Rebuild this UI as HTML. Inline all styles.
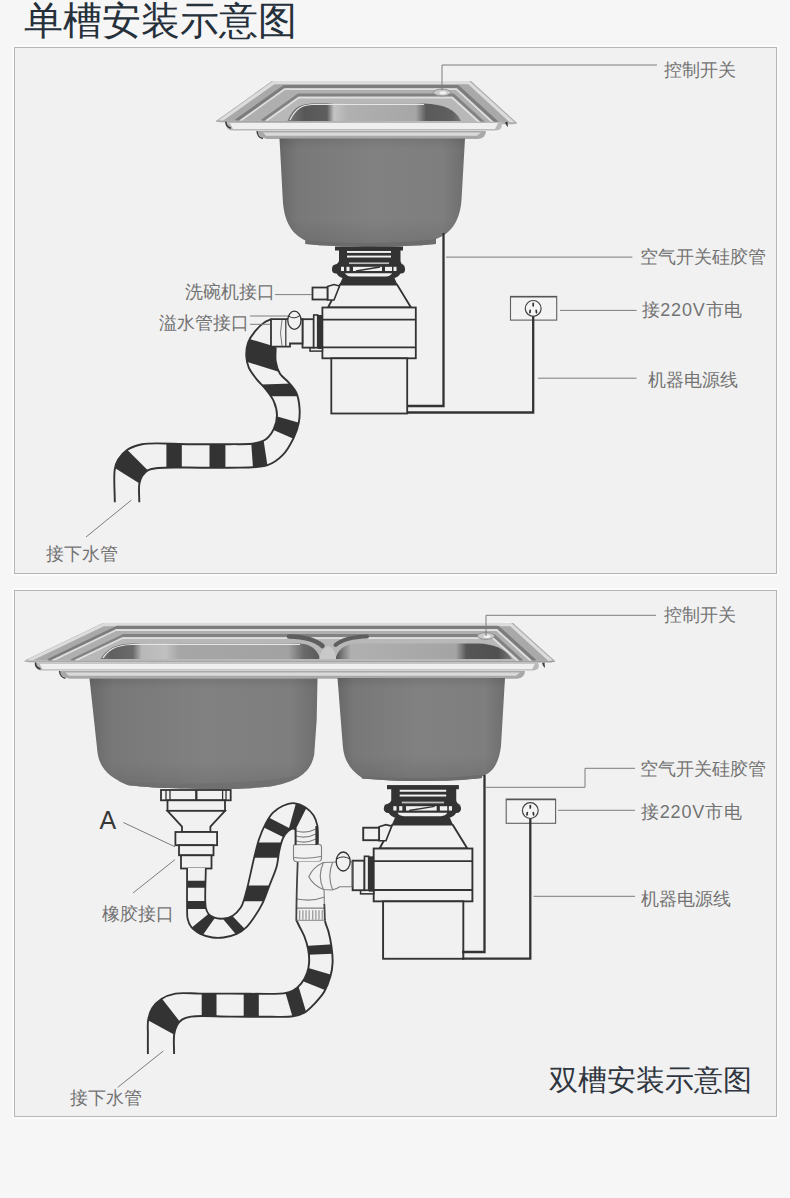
<!DOCTYPE html>
<html><head><meta charset="utf-8"><style>
html,body{margin:0;padding:0;}
body{width:790px;height:1198px;background:#f6f6f6;position:relative;overflow:hidden;font-family:"Liberation Sans",sans-serif;}
.panel{position:absolute;left:14px;width:761px;height:525px;background:#f1f1f1;border:1px solid #b6b6b6;box-shadow:0 0 0 2px #fbfbfb;}
.t{position:absolute;white-space:nowrap;color:#737373;font-size:18px;line-height:20px;font-weight:300;}
.title{position:absolute;white-space:nowrap;color:#25303b;font-size:39.2px;line-height:40px;font-weight:300;}
svg{position:absolute;left:0;top:0;}
</style></head><body>
<div class="panel" style="top:47px"></div>
<div class="panel" style="top:590px"></div>
<div class="title" style="left:24px;top:0.5px">单槽安装示意图</div>
<svg width="790" height="1198" viewBox="0 0 790 1198">
<defs>
<linearGradient id="op1" x1="287" y1="0" x2="461" y2="0" gradientUnits="userSpaceOnUse">
 <stop offset="0" stop-color="#7a7a7a"/><stop offset="0.1" stop-color="#575757"/><stop offset="0.23" stop-color="#5e5e5e"/>
 <stop offset="0.27" stop-color="#c4c4c4"/><stop offset="0.35" stop-color="#b0b0b0"/><stop offset="0.74" stop-color="#a6a6a6"/>
 <stop offset="0.8" stop-color="#5a5a5a"/><stop offset="0.95" stop-color="#606060"/><stop offset="1" stop-color="#7a7a7a"/></linearGradient>
<linearGradient id="op2" x1="100" y1="0" x2="319" y2="0" gradientUnits="userSpaceOnUse">
 <stop offset="0" stop-color="#7a7a7a"/><stop offset="0.05" stop-color="#606060"/><stop offset="0.15" stop-color="#6a6a6a"/>
 <stop offset="0.19" stop-color="#b8b8b8"/><stop offset="0.3" stop-color="#c0c0c0"/><stop offset="0.36" stop-color="#a6a6a6"/>
 <stop offset="0.86" stop-color="#a2a2a2"/><stop offset="0.93" stop-color="#6a6a6a"/><stop offset="1" stop-color="#5a5a5a"/></linearGradient>
<linearGradient id="op3" x1="337" y1="0" x2="512" y2="0" gradientUnits="userSpaceOnUse">
 <stop offset="0" stop-color="#5a5a5a"/><stop offset="0.08" stop-color="#b0b0b0"/><stop offset="0.68" stop-color="#a4a4a4"/>
 <stop offset="0.74" stop-color="#565656"/><stop offset="0.92" stop-color="#505050"/><stop offset="1" stop-color="#7a7a7a"/></linearGradient>
<linearGradient id="bowl" x1="0" y1="0" x2="1" y2="0">
 <stop offset="0" stop-color="#686868"/><stop offset="0.1" stop-color="#787878"/>
 <stop offset="0.5" stop-color="#818181"/><stop offset="0.88" stop-color="#7e7e7e"/><stop offset="1" stop-color="#6e6e6e"/></linearGradient>
<linearGradient id="bowlv" x1="0" y1="0" x2="0" y2="1">
 <stop offset="0" stop-color="#000" stop-opacity="0.08"/><stop offset="0.1" stop-color="#000" stop-opacity="0"/>
 <stop offset="0.75" stop-color="#000" stop-opacity="0"/><stop offset="1" stop-color="#000" stop-opacity="0.10"/></linearGradient>
</defs>
<polygon points="272.0,81.0 471.0,81.0 517.0,123.0 216.0,121.0" fill="#a9a9a9" />
<polyline points="220.0,121.0 273.8,82.6 468.8,82.6 513.0,123.0" fill="none" stroke="#dcdcdc" stroke-width="3.2" stroke-linejoin="round"/>
<polygon points="284.2,86.6 457.5,86.6 497.4,123.0 236.0,121.0" fill="#afafaf" />
<polyline points="236.0,121.0 284.2,86.6 457.5,86.6 497.4,123.0" fill="none" stroke="#7c7c7c" stroke-width="3.4" stroke-linejoin="round"/>
<polyline points="240.0,121.0 284.5,89.2 456.4,89.2 493.4,123.0" fill="none" stroke="#dedede" stroke-width="1.8" stroke-linejoin="round"/>
<polygon points="298.4,95.0 453.3,95.0 484.0,123.0 262.0,121.0" fill="#b8b8b8" />
<polyline points="262.0,121.0 298.4,95.0 453.3,95.0 484.0,123.0" fill="none" stroke="#828282" stroke-width="3.0" stroke-linejoin="round"/>
<polyline points="266.0,121.0 298.8,97.6 452.2,97.6 480.0,123.0" fill="none" stroke="#dedede" stroke-width="1.8" stroke-linejoin="round"/>
<path d="M287.5,121 C292,110 298,104 312,103.5 L424,103.5 C444,104 456,110 461,121 Z" fill="url(#op1)"/>
<path d="M290,120 C295,110 300,105 312,104.5 L424,104.5" fill="none" stroke="#e6e6e6" stroke-width="1.2"/>
<polygon points="216,120.4 517,122.4 513,124.6 220,122.6" fill="#c6c6c6"/>
<line x1="216" y1="121.2" x2="517" y2="123.2" stroke="#9a9a9a" stroke-width="0.9"/>
<path d="M226,121.7 L501,121.7 Q504,129.4 496,130.4 L231,130.4 Q225,129.4 226,121.7 Z" fill="#b9b9b9"/>
<path d="M230,122.9 L498,122.9 L495,129.0 L233,129.0 Z" fill="#efefef"/>
<path d="M226,121.7 Q225.5,126.7 231,128.2" fill="none" stroke="#3a3a3a" stroke-width="1.6"/>
<path d="M505,122.2 Q506,125.7 508,127.2 L507.5,121.7 Z" fill="#3a3a3a"/>
<path d="M257,131 L486,131 Q486,138 478,139 L267,139 Q258,137 257,131 Z" fill="#a8a8a8"/>
<path d="M263,132.6 L481,132.6 L477,135.8 L266,135.8 Z" fill="#dadada"/>
<path d="M257,131 Q257.5,137.5 263,138.5" fill="none" stroke="#444" stroke-width="1.4"/>
<path d="M279.5,138.5 L465,138.5 L461.5,200 C460,222 450,234 436,239 L436,244 C400,247.5 340,247.5 305.5,244 L305.4,240.5 C292,234 284,222 282.8,200 Z" fill="url(#bowl)"/>
<path d="M279.5,138.5 L465,138.5 L461.5,200 C460,222 450,234 436,239 L436,244 C400,247.5 340,247.5 305.5,244 L305.4,240.5 C292,234 284,222 282.8,200 Z" fill="url(#bowlv)"/>
<path d="M305.4,240.5 C340,244 400,244 436,239 L436,244 C400,247.5 340,247.5 305.5,244 Z" fill="#6c6c6c"/>
<ellipse cx="442" cy="92.5" rx="8.5" ry="3.4" fill="#c9c9c9" stroke="#8c8c8c" stroke-width="0.9"/><ellipse cx="443" cy="92.8" rx="3.5" ry="1.6" fill="#f2f2f2"/>
<polyline points="442,90 442,65 657,65" fill="none" stroke="#7d7d7d" stroke-width="1"/>
<rect x="335" y="246.5" width="68" height="4" fill="#333333"/>
<path d="M339,250 L400.5,250 L400.5,261 Q401,264.5 405,265.5 L332,265.5 Q338,264.5 339,261 Z" fill="#333333"/>
<rect x="347" y="251" width="44" height="1.9" fill="#f2f2f2"/>
<rect x="347" y="255.6" width="44" height="1.9" fill="#f2f2f2"/>
<rect x="349" y="262.4" width="40" height="1.7" fill="#bdbdbd"/>
<rect x="332" y="264.8" width="73" height="8.6" rx="4" fill="#333333"/>
<rect x="341" y="266.8" width="3" height="4.2" fill="#f0f0f0"/>
<rect x="346.5" y="266.8" width="3.0" height="4.2" fill="#f0f0f0"/>
<rect x="353" y="266.8" width="29" height="4.2" fill="#f0f0f0"/>
<rect x="385" y="266.8" width="7" height="4.2" fill="#f0f0f0"/>
<rect x="393.5" y="266.8" width="3.0" height="4.2" fill="#f0f0f0"/>
<line x1="356" y1="271" x2="380" y2="267" stroke="#333333" stroke-width="1.4"/>
<path d="M336,272 Q338,278 346,278.5 L391,278.5 Q399,278 401,272 Z" fill="#333333"/>
<path d="M345,273.2 L392,273.2 Q390.5,276.2 386,276.4 L351,276.4 Q346.5,276.2 345,273.2 Z" fill="#f0f0f0"/>
<polygon points="342.5,278 394.5,278 397.5,284.8 339.5,284.8" fill="#333333"/>
<polygon points="340,284.5 397,284.5 411,307.5 328,307.5" fill="#f1f1f1" stroke="#333333" stroke-width="1.8" stroke-linejoin="round"/>
<polygon points="327.5,286.5 334,284.5 339.5,286 334,300 327.5,300" fill="#f1f1f1" stroke="#333333" stroke-width="1.6"/>
<rect x="312.5" y="287.5" width="15" height="12" fill="#f1f1f1" stroke="#333333" stroke-width="1.8"/>
<rect x="322.4" y="307.5" width="93.4" height="50.8" fill="#f1f1f1" stroke="#333333" stroke-width="1.8"/>
<line x1="322.4" y1="319.6" x2="415.8" y2="319.6" stroke="#333333" stroke-width="1.8"/>
<line x1="322.4" y1="347.4" x2="415.8" y2="347.4" stroke="#333333" stroke-width="1.8"/>
<rect x="331.3" y="358.3" width="75.9" height="55.2" fill="#f1f1f1" stroke="#333333" stroke-width="1.8"/>
<rect x="310" y="347.5" width="12.4" height="3.6" fill="#f1f1f1" stroke="#333333" stroke-width="1.5"/>
<rect x="302.5" y="319.2" width="11.2" height="28.4" fill="#f1f1f1" stroke="#333333" stroke-width="1.8"/>
<rect x="313.7" y="315" width="4" height="32.6" fill="#f1f1f1" stroke="#333333" stroke-width="1.6"/>
<rect x="317.7" y="315" width="4.7" height="34" fill="#333333"/>
<clipPath id="hc1"><path d="M114.8,502.2 C114.8,491.2 113.5,476.9 114.8,469.2 C115.5,464.9 116.3,462.6 118.2,459.5 C120.3,456.0 123.6,452.3 127.3,449.8 C131.4,447.1 135.6,445.4 142.1,444.2 C153.4,442.1 174.8,444.2 190.0,444.2 C203.9,444.2 218.2,444.4 230.0,444.2 C239.3,444.0 248.4,444.7 255.0,443.3 C259.6,442.3 263.2,441.3 266.3,438.9 C269.5,436.5 272.0,432.7 273.8,428.9 C275.7,424.8 277.0,419.6 277.0,415.0 C277.0,410.4 275.6,405.5 273.8,401.3 C272.0,397.2 269.1,393.7 266.3,390.0 C263.3,386.1 259.3,382.6 256.3,378.8 C253.5,375.2 250.5,371.5 248.8,367.6 C247.3,364.0 246.5,360.3 246.3,356.3 C246.1,351.9 246.6,346.7 248.1,342.5 C249.6,338.4 252.2,334.7 255.0,331.3 C257.8,327.8 261.9,324.0 265.0,322.0 C267.1,320.6 269.0,320.2 271.0,319.3 L275.7,347.5 C275.7,352.1 275.0,356.9 275.7,361.3 C276.4,365.6 277.8,370.2 280.0,373.8 C282.2,377.3 286.1,379.5 288.8,382.6 C291.5,385.7 294.5,388.7 296.3,392.6 C298.3,396.9 299.1,402.6 299.5,407.6 C299.9,412.6 299.7,417.7 298.8,422.6 C297.9,427.7 296.2,432.5 293.8,437.6 C291.0,443.4 287.2,450.5 282.6,455.2 C278.3,459.6 274.0,463.0 267.5,465.2 C258.1,468.4 241.8,467.3 230.0,467.7 C219.4,468.1 210.8,467.7 200.0,467.7 C187.2,467.7 167.2,466.9 158.0,468.0 C153.4,468.5 150.5,468.8 147.8,470.3 C145.4,471.6 143.5,473.8 142.1,476.0 C140.7,478.3 139.9,480.7 139.3,484.0 C138.5,488.8 139.3,496.1 139.3,502.2 Z"/></clipPath>
<path d="M114.8,502.2 C114.8,491.2 113.5,476.9 114.8,469.2 C115.5,464.9 116.3,462.6 118.2,459.5 C120.3,456.0 123.6,452.3 127.3,449.8 C131.4,447.1 135.6,445.4 142.1,444.2 C153.4,442.1 174.8,444.2 190.0,444.2 C203.9,444.2 218.2,444.4 230.0,444.2 C239.3,444.0 248.4,444.7 255.0,443.3 C259.6,442.3 263.2,441.3 266.3,438.9 C269.5,436.5 272.0,432.7 273.8,428.9 C275.7,424.8 277.0,419.6 277.0,415.0 C277.0,410.4 275.6,405.5 273.8,401.3 C272.0,397.2 269.1,393.7 266.3,390.0 C263.3,386.1 259.3,382.6 256.3,378.8 C253.5,375.2 250.5,371.5 248.8,367.6 C247.3,364.0 246.5,360.3 246.3,356.3 C246.1,351.9 246.6,346.7 248.1,342.5 C249.6,338.4 252.2,334.7 255.0,331.3 C257.8,327.8 261.9,324.0 265.0,322.0 C267.1,320.6 269.0,320.2 271.0,319.3 L275.7,347.5 C275.7,352.1 275.0,356.9 275.7,361.3 C276.4,365.6 277.8,370.2 280.0,373.8 C282.2,377.3 286.1,379.5 288.8,382.6 C291.5,385.7 294.5,388.7 296.3,392.6 C298.3,396.9 299.1,402.6 299.5,407.6 C299.9,412.6 299.7,417.7 298.8,422.6 C297.9,427.7 296.2,432.5 293.8,437.6 C291.0,443.4 287.2,450.5 282.6,455.2 C278.3,459.6 274.0,463.0 267.5,465.2 C258.1,468.4 241.8,467.3 230.0,467.7 C219.4,468.1 210.8,467.7 200.0,467.7 C187.2,467.7 167.2,466.9 158.0,468.0 C153.4,468.5 150.5,468.8 147.8,470.3 C145.4,471.6 143.5,473.8 142.1,476.0 C140.7,478.3 139.9,480.7 139.3,484.0 C138.5,488.8 139.3,496.1 139.3,502.2 Z" fill="#f1f1f1"/>
<g clip-path="url(#hc1)" fill="#333333"><polygon points="123.7,446.2 152.0,474.5 144.4,486.6 109.7,464.8"/><polygon points="166.4,434.0 166.4,478.0 181.8,478.0 181.8,434.0"/><polygon points="209.5,434.0 209.5,478.0 225.4,478.0 225.4,434.0"/><polygon points="250.9,438.5 253.4,473.7 268.4,471.7 262.9,436.1"/><polygon points="271.2,414.8 304.6,424.2 299.3,441.3 267.7,427.6"/><polygon points="252.8,384.7 292.3,383.6 301.0,396.3 264.0,396.3"/><polygon points="243.1,337.1 281.4,348.6 282.6,373.1 241.8,360.2"/></g>
<path d="M114.8,502.2 C114.8,491.2 113.5,476.9 114.8,469.2 C115.5,464.9 116.3,462.6 118.2,459.5 C120.3,456.0 123.6,452.3 127.3,449.8 C131.4,447.1 135.6,445.4 142.1,444.2 C153.4,442.1 174.8,444.2 190.0,444.2 C203.9,444.2 218.2,444.4 230.0,444.2 C239.3,444.0 248.4,444.7 255.0,443.3 C259.6,442.3 263.2,441.3 266.3,438.9 C269.5,436.5 272.0,432.7 273.8,428.9 C275.7,424.8 277.0,419.6 277.0,415.0 C277.0,410.4 275.6,405.5 273.8,401.3 C272.0,397.2 269.1,393.7 266.3,390.0 C263.3,386.1 259.3,382.6 256.3,378.8 C253.5,375.2 250.5,371.5 248.8,367.6 C247.3,364.0 246.5,360.3 246.3,356.3 C246.1,351.9 246.6,346.7 248.1,342.5 C249.6,338.4 252.2,334.7 255.0,331.3 C257.8,327.8 261.9,324.0 265.0,322.0 C267.1,320.6 269.0,320.2 271.0,319.3" fill="none" stroke="#333333" stroke-width="1.9"/>
<path d="M139.3,502.2 C139.3,496.1 138.5,488.8 139.3,484.0 C139.9,480.7 140.7,478.3 142.1,476.0 C143.5,473.8 145.4,471.6 147.8,470.3 C150.5,468.8 153.4,468.5 158.0,468.0 C167.2,466.9 187.2,467.7 200.0,467.7 C210.8,467.7 219.4,468.1 230.0,467.7 C241.8,467.3 258.1,468.4 267.5,465.2 C274.0,463.0 278.3,459.6 282.6,455.2 C287.2,450.5 291.0,443.4 293.8,437.6 C296.2,432.5 297.9,427.7 298.8,422.6 C299.7,417.7 299.9,412.6 299.5,407.6 C299.1,402.6 298.3,396.9 296.3,392.6 C294.5,388.7 291.5,385.7 288.8,382.6 C286.1,379.5 282.2,377.3 280.0,373.8 C277.8,370.2 276.4,365.6 275.7,361.3 C275.0,356.9 275.7,352.1 275.7,347.5" fill="none" stroke="#333333" stroke-width="1.9"/>
<path d="M271,319.2 L302.5,319.2 L302.5,343.5 L290,343.5 L290,346.6 L271,346.6 Z" fill="#f1f1f1" stroke="#333333" stroke-width="1.8"/>
<path d="M282,320 Q279,333 282,346" fill="none" stroke="#777" stroke-width="1"/>
<line x1="285.8" y1="319.5" x2="285.8" y2="346" stroke="#333333" stroke-width="1.2"/>
<ellipse cx="294.4" cy="320.3" rx="6.6" ry="9.1" fill="#f1f1f1" stroke="#333333" stroke-width="1.3"/>
<path d="M288.5,316 Q294,320 300,315.5" fill="none" stroke="#333333" stroke-width="1"/>
<rect x="510.5" y="296.4" width="46.2" height="23.7" fill="#f3f3f3" stroke="#606060" stroke-width="1.1"/><line x1="510.5" y1="296.7" x2="556.7" y2="296.7" stroke="#555" stroke-width="1.6"/><circle cx="533.2" cy="308.4" r="7.9" fill="#f5f5f5" stroke="#444" stroke-width="1.2"/><g stroke="#333" stroke-width="1.7" stroke-linecap="round"><line x1="533.2" y1="303.4" x2="533.2" y2="305.79999999999995"/><line x1="530.2" y1="310.4" x2="529.9000000000001" y2="312.7"/><line x1="536.2" y1="310.4" x2="536.5" y2="312.7"/></g>
<polyline points="443.5,233 443.5,406 407,406" fill="none" stroke="#333333" stroke-width="2.3"/>
<polyline points="533.2,316.3 533.2,412.5 407,412.5" fill="none" stroke="#333333" stroke-width="2.3"/>
<polyline points="446,257.1 632.4,257.1" fill="none" stroke="#7d7d7d" stroke-width="1"/>
<polyline points="560,310.4 636.6,310.4" fill="none" stroke="#7d7d7d" stroke-width="1"/>
<polyline points="538,378.2 636.6,378.2" fill="none" stroke="#7d7d7d" stroke-width="1"/>
<polyline points="275,294.6 312,294.6" fill="none" stroke="#7d7d7d" stroke-width="1"/>
<polyline points="250,316 288,316" fill="none" stroke="#7d7d7d" stroke-width="1"/>
<polyline points="250,324.3 270,324.3" fill="none" stroke="#7d7d7d" stroke-width="1"/>
<polyline points="86,537 131.5,500" fill="none" stroke="#7d7d7d" stroke-width="1"/>
<polygon points="103.0,623.0 513.0,623.0 555.0,661.0 24.6,660.6" fill="#a9a9a9" />
<polyline points="28.6,660.6 103.7,624.6 510.8,624.6 551.0,661.0" fill="none" stroke="#dcdcdc" stroke-width="3.2" stroke-linejoin="round"/>
<polygon points="117.5,627.4 497.9,627.4 535.0,661.0 48.3,660.6" fill="#afafaf" />
<polyline points="48.3,660.6 117.5,627.4 497.9,627.4 535.0,661.0" fill="none" stroke="#7c7c7c" stroke-width="3.4" stroke-linejoin="round"/>
<polyline points="52.3,660.6 116.1,630.0 496.7,630.0 531.0,661.0" fill="none" stroke="#dedede" stroke-width="1.8" stroke-linejoin="round"/>
<polygon points="123.4,635.6 493.9,635.6 522.0,661.0 71.3,660.6" fill="#b8b8b8" />
<polyline points="71.3,660.6 123.4,635.6 493.9,635.6 522.0,661.0" fill="none" stroke="#828282" stroke-width="3.0" stroke-linejoin="round"/>
<polyline points="75.3,660.6 122.0,638.2 492.8,638.2 518.0,661.0" fill="none" stroke="#dedede" stroke-width="1.8" stroke-linejoin="round"/>
<path d="M100.5,659 C106,650 114,644 132,643.5 L300,643.5 C311,644 317,650 319.5,657 L319.5,659 Z" fill="url(#op2)"/>
<path d="M336,659 L336,657 C338.5,650 344,644 356,643.5 L478,643.5 C496,644 506,650 512,659 Z" fill="url(#op3)"/>
<path d="M103,658 C108,650 115,645 132,644.5 L300,644.5" fill="none" stroke="#e6e6e6" stroke-width="1.2"/>
<path d="M289,636.5 Q313,637 322.5,646" fill="none" stroke="#5e5e5e" stroke-width="4.5" stroke-linecap="round"/>
<path d="M367,636.5 Q345,637 335.5,645" fill="none" stroke="#5e5e5e" stroke-width="4" stroke-linecap="round"/>
<path d="M319.5,657 Q322,648 328,646 Q334,648 336,657 L336,659 L319.5,659 Z" fill="#c9c9c9"/>
<polygon points="24.6,660.4 555,660.6999999999999 551,662.9 28.6,662.6" fill="#c6c6c6"/>
<line x1="24.6" y1="661.2" x2="555" y2="661.5" stroke="#9a9a9a" stroke-width="0.9"/>
<path d="M35.5,662.5 L538,662.5 Q541,669.6 533,670.6 L40.5,670.6 Q34.5,669.6 35.5,662.5 Z" fill="#b9b9b9"/>
<path d="M39.5,663.7 L535,663.7 L532,669.2 L42.5,669.2 Z" fill="#efefef"/>
<path d="M35.5,662.5 Q35.0,667.5 40.5,669.0" fill="none" stroke="#3a3a3a" stroke-width="1.6"/>
<path d="M542,663.0 Q543,666.5 545,668.0 L544.5,662.5 Z" fill="#3a3a3a"/>
<path d="M59.5,671 L525,671 Q525,677.8 517,678.8 L69.5,678.8 Q60.5,676.8 59.5,671 Z" fill="#a8a8a8"/>
<path d="M65.5,672.6 L520,672.6 L516,675.8 L68.5,675.8 Z" fill="#dadada"/>
<path d="M59.5,671 Q60.0,677.3 65.5,678.3" fill="none" stroke="#444" stroke-width="1.4"/>
<path d="M89.5,678.5 L317.5,678.5 L316.7,720 L314.2,754.8 C311,772 298,782 270,786.5 C240,789.5 215,789.5 206.6,789 C170,788.5 140,787 127.5,784.9 C110,778 99,768 97.4,751.6 Z" fill="url(#bowl)"/>
<path d="M89.5,678.5 L317.5,678.5 L316.7,720 L314.2,754.8 C311,772 298,782 270,786.5 C240,789.5 215,789.5 206.6,789 C170,788.5 140,787 127.5,784.9 C110,778 99,768 97.4,751.6 Z" fill="url(#bowlv)"/>
<path d="M337.5,678 L505,678 L501,746 C499,764 492,773 482,776.5 L482,778 C450,782 400,782 362,778.5 L361.8,777.7 C350,770 344,760 342.8,746 Z" fill="url(#bowl)"/>
<path d="M337.5,678 L505,678 L501,746 C499,764 492,773 482,776.5 L482,778 C450,782 400,782 362,778.5 L361.8,777.7 C350,770 344,760 342.8,746 Z" fill="url(#bowlv)"/>
<path d="M118,781 C150,785 250,786 300,775 C290,782 280,785 270,786.5 C240,789.5 215,789.5 206.6,789 C170,788.5 140,787 127.5,784.9 Z" fill="#6e6e6e" opacity="0.7"/>
<path d="M361.8,776 C400,779 450,779 482,774.5 L482,778 C450,782 400,782 362,778.5 Z" fill="#6c6c6c"/>
<ellipse cx="486" cy="636" rx="8.5" ry="3.4" fill="#c9c9c9" stroke="#8c8c8c" stroke-width="0.9"/><ellipse cx="487" cy="636.3" rx="3.5" ry="1.6" fill="#f2f2f2"/>
<polyline points="486,636 486,615.3 656,615.3" fill="none" stroke="#7d7d7d" stroke-width="1"/>
<g transform="translate(387,785.6) scale(1.057,1.04) translate(-335,-247)"><rect x="335" y="246.5" width="68" height="4" fill="#333333"/>
<path d="M339,250 L400.5,250 L400.5,261 Q401,264.5 405,265.5 L332,265.5 Q338,264.5 339,261 Z" fill="#333333"/>
<rect x="347" y="251" width="44" height="1.9" fill="#f2f2f2"/>
<rect x="347" y="255.6" width="44" height="1.9" fill="#f2f2f2"/>
<rect x="349" y="262.4" width="40" height="1.7" fill="#bdbdbd"/>
<rect x="332" y="264.8" width="73" height="8.6" rx="4" fill="#333333"/>
<rect x="341" y="266.8" width="3" height="4.2" fill="#f0f0f0"/>
<rect x="346.5" y="266.8" width="3.0" height="4.2" fill="#f0f0f0"/>
<rect x="353" y="266.8" width="29" height="4.2" fill="#f0f0f0"/>
<rect x="385" y="266.8" width="7" height="4.2" fill="#f0f0f0"/>
<rect x="393.5" y="266.8" width="3.0" height="4.2" fill="#f0f0f0"/>
<line x1="356" y1="271" x2="380" y2="267" stroke="#333333" stroke-width="1.4"/>
<path d="M336,272 Q338,278 346,278.5 L391,278.5 Q399,278 401,272 Z" fill="#333333"/>
<path d="M345,273.2 L392,273.2 Q390.5,276.2 386,276.4 L351,276.4 Q346.5,276.2 345,273.2 Z" fill="#f0f0f0"/>
<polygon points="342.5,278 394.5,278 397.5,284.8 339.5,284.8" fill="#333333"/>
<polygon points="340,284.5 397,284.5 411,307.5 328,307.5" fill="#f1f1f1" stroke="#333333" stroke-width="1.8" stroke-linejoin="round"/>
<polygon points="327.5,286.5 334,284.5 339.5,286 334,300 327.5,300" fill="#f1f1f1" stroke="#333333" stroke-width="1.6"/>
<rect x="312.5" y="287.5" width="15" height="12" fill="#f1f1f1" stroke="#333333" stroke-width="1.8"/>
<rect x="322.4" y="307.5" width="93.4" height="50.8" fill="#f1f1f1" stroke="#333333" stroke-width="1.8"/>
<line x1="322.4" y1="319.6" x2="415.8" y2="319.6" stroke="#333333" stroke-width="1.8"/>
<line x1="322.4" y1="347.4" x2="415.8" y2="347.4" stroke="#333333" stroke-width="1.8"/>
<rect x="331.3" y="358.3" width="75.9" height="55.2" fill="#f1f1f1" stroke="#333333" stroke-width="1.8"/>
<rect x="310" y="347.5" width="12.4" height="3.6" fill="#f1f1f1" stroke="#333333" stroke-width="1.5"/>
<rect x="302.5" y="319.2" width="11.2" height="28.4" fill="#f1f1f1" stroke="#333333" stroke-width="1.8"/>
<rect x="313.7" y="315" width="4" height="32.6" fill="#f1f1f1" stroke="#333333" stroke-width="1.6"/>
<rect x="317.7" y="315" width="4.7" height="34" fill="#333333"/></g>
<g fill="#f1f1f1" stroke="#333333" stroke-width="1.8">
<rect x="161" y="790" width="69.7" height="10.3"/>
<rect x="167.5" y="800.3" width="57.5" height="10.5"/>
<polygon points="167.5,810.8 225,810.8 210.4,826.6 210.4,832 182,832 182,826.6"/>
<rect x="175.4" y="832" width="41.7" height="13.2"/>
<rect x="179" y="845.2" width="34.5" height="10.1"/>
<rect x="181" y="855.3" width="30.5" height="13.2"/>
</g>
<g stroke="#333333" stroke-width="1.3"><line x1="166" y1="790" x2="166" y2="800"/><line x1="170" y1="790" x2="170" y2="800"/><line x1="222.6" y1="790" x2="222.6" y2="800"/><line x1="226" y1="790" x2="226" y2="800"/></g>
<line x1="196.3" y1="790" x2="196.3" y2="800" stroke="#333333" stroke-width="2.3"/>
<clipPath id="hc2"><path d="M187.1,868.1 C187.1,881.6 186.9,899.6 187.1,908.6 C187.2,913.1 186.9,915.6 187.6,918.7 C188.3,921.6 189.2,924.4 191.1,926.8 C193.2,929.6 196.8,932.1 200.3,933.9 C203.9,935.7 208.4,936.9 212.4,937.5 C216.1,938.0 219.7,938.0 223.5,937.5 C227.7,936.9 232.7,935.8 236.7,933.9 C240.5,932.1 243.8,929.7 246.8,926.8 C249.9,923.8 252.5,919.8 255.0,916.0 C257.6,912.2 260.0,908.4 262.2,903.9 C264.8,898.6 266.8,892.2 269.2,886.1 C271.7,879.6 275.1,872.2 276.8,865.9 C278.2,860.5 278.2,855.5 279.3,850.7 C280.3,846.2 281.4,841.5 283.1,838.0 C284.5,835.2 286.3,832.7 288.2,831.1 C289.7,829.8 291.8,828.5 293.2,828.5 C294.2,828.5 295.2,829.0 295.8,830.0 C297.2,832.4 295.8,840.4 295.8,845.6 L317.9,845.0 C317.7,838.5 318.4,830.8 317.3,825.4 C316.5,821.4 315.4,818.3 313.5,815.3 C311.6,812.4 309.0,809.7 305.9,807.7 C302.4,805.5 297.2,803.4 293.2,803.2 C289.7,803.0 286.3,804.3 283.1,805.8 C279.6,807.4 275.9,809.8 273.0,812.7 C269.9,815.8 267.7,819.9 265.4,824.1 C262.9,828.7 260.8,833.9 259.0,839.3 C257.0,845.2 255.7,851.3 254.0,858.3 C252.0,866.7 249.5,878.8 247.7,886.1 C246.5,890.9 245.7,894.3 244.5,898.0 C243.4,901.4 242.7,904.7 240.8,907.6 C238.8,910.6 235.8,913.8 232.7,915.7 C229.7,917.5 225.7,918.4 222.5,918.7 C219.7,918.9 216.8,918.6 214.4,917.7 C212.1,916.9 209.8,915.4 208.4,913.7 C207.0,912.0 206.4,910.6 205.8,907.6 C204.3,900.3 205.8,881.3 205.8,868.1 Z"/></clipPath>
<path d="M187.1,868.1 C187.1,881.6 186.9,899.6 187.1,908.6 C187.2,913.1 186.9,915.6 187.6,918.7 C188.3,921.6 189.2,924.4 191.1,926.8 C193.2,929.6 196.8,932.1 200.3,933.9 C203.9,935.7 208.4,936.9 212.4,937.5 C216.1,938.0 219.7,938.0 223.5,937.5 C227.7,936.9 232.7,935.8 236.7,933.9 C240.5,932.1 243.8,929.7 246.8,926.8 C249.9,923.8 252.5,919.8 255.0,916.0 C257.6,912.2 260.0,908.4 262.2,903.9 C264.8,898.6 266.8,892.2 269.2,886.1 C271.7,879.6 275.1,872.2 276.8,865.9 C278.2,860.5 278.2,855.5 279.3,850.7 C280.3,846.2 281.4,841.5 283.1,838.0 C284.5,835.2 286.3,832.7 288.2,831.1 C289.7,829.8 291.8,828.5 293.2,828.5 C294.2,828.5 295.2,829.0 295.8,830.0 C297.2,832.4 295.8,840.4 295.8,845.6 L317.9,845.0 C317.7,838.5 318.4,830.8 317.3,825.4 C316.5,821.4 315.4,818.3 313.5,815.3 C311.6,812.4 309.0,809.7 305.9,807.7 C302.4,805.5 297.2,803.4 293.2,803.2 C289.7,803.0 286.3,804.3 283.1,805.8 C279.6,807.4 275.9,809.8 273.0,812.7 C269.9,815.8 267.7,819.9 265.4,824.1 C262.9,828.7 260.8,833.9 259.0,839.3 C257.0,845.2 255.7,851.3 254.0,858.3 C252.0,866.7 249.5,878.8 247.7,886.1 C246.5,890.9 245.7,894.3 244.5,898.0 C243.4,901.4 242.7,904.7 240.8,907.6 C238.8,910.6 235.8,913.8 232.7,915.7 C229.7,917.5 225.7,918.4 222.5,918.7 C219.7,918.9 216.8,918.6 214.4,917.7 C212.1,916.9 209.8,915.4 208.4,913.7 C207.0,912.0 206.4,910.6 205.8,907.6 C204.3,900.3 205.8,881.3 205.8,868.1 Z" fill="#f1f1f1"/>
<g clip-path="url(#hc2)" fill="#333333"><polygon points="181.1,880.8 211.8,880.8 211.8,887.8 181.1,887.8"/><polygon points="181.1,901.0 211.8,901.0 211.8,909.1 181.1,909.1"/><polygon points="187.0,931.6 211.4,911.4 217.9,913.8 199.8,939.3"/><polygon points="219.6,915.1 238.6,937.5 248.9,933.2 228.6,911.9"/><polygon points="241.0,885.5 275.8,885.5 269.5,901.3 237.2,901.3"/><polygon points="253.0,842.5 287.2,842.5 283.4,857.7 248.0,857.7"/><polygon points="263.9,815.1 295.4,831.2 289.1,840.1 259.3,825.2"/><polygon points="297.4,798.1 287.8,832.4 293.1,834.6 308.6,803.5"/></g>
<path d="M187.1,868.1 C187.1,881.6 186.9,899.6 187.1,908.6 C187.2,913.1 186.9,915.6 187.6,918.7 C188.3,921.6 189.2,924.4 191.1,926.8 C193.2,929.6 196.8,932.1 200.3,933.9 C203.9,935.7 208.4,936.9 212.4,937.5 C216.1,938.0 219.7,938.0 223.5,937.5 C227.7,936.9 232.7,935.8 236.7,933.9 C240.5,932.1 243.8,929.7 246.8,926.8 C249.9,923.8 252.5,919.8 255.0,916.0 C257.6,912.2 260.0,908.4 262.2,903.9 C264.8,898.6 266.8,892.2 269.2,886.1 C271.7,879.6 275.1,872.2 276.8,865.9 C278.2,860.5 278.2,855.5 279.3,850.7 C280.3,846.2 281.4,841.5 283.1,838.0 C284.5,835.2 286.3,832.7 288.2,831.1 C289.7,829.8 291.8,828.5 293.2,828.5 C294.2,828.5 295.2,829.0 295.8,830.0 C297.2,832.4 295.8,840.4 295.8,845.6" fill="none" stroke="#333333" stroke-width="1.8"/>
<path d="M205.8,868.1 C205.8,881.3 204.3,900.3 205.8,907.6 C206.4,910.6 207.0,912.0 208.4,913.7 C209.8,915.4 212.1,916.9 214.4,917.7 C216.8,918.6 219.7,918.9 222.5,918.7 C225.7,918.4 229.7,917.5 232.7,915.7 C235.8,913.8 238.8,910.6 240.8,907.6 C242.7,904.7 243.4,901.4 244.5,898.0 C245.7,894.3 246.5,890.9 247.7,886.1 C249.5,878.8 252.0,866.7 254.0,858.3 C255.7,851.3 257.0,845.2 259.0,839.3 C260.8,833.9 262.9,828.7 265.4,824.1 C267.7,819.9 269.9,815.8 273.0,812.7 C275.9,809.8 279.6,807.4 283.1,805.8 C286.3,804.3 289.7,803.0 293.2,803.2 C297.2,803.4 302.4,805.5 305.9,807.7 C309.0,809.7 311.6,812.4 313.5,815.3 C315.4,818.3 316.5,821.4 317.3,825.4 C318.4,830.8 317.7,838.5 317.9,845.0" fill="none" stroke="#333333" stroke-width="1.8"/>
<clipPath id="hc3"><path d="M296.3,920.0 C297.3,922.0 298.1,923.7 299.2,926.0 C300.7,929.0 302.9,932.8 304.4,936.5 C305.9,940.4 307.3,944.7 308.1,949.0 C308.9,953.4 309.4,958.4 309.1,962.6 C308.9,966.3 308.2,969.6 307.0,973.0 C305.7,976.6 303.7,980.4 301.3,983.4 C299.0,986.3 296.1,989.0 293.0,990.7 C290.1,992.3 287.1,992.8 283.6,993.4 C279.5,994.1 275.7,993.8 270.0,993.9 C260.2,994.0 242.4,993.6 230.0,993.6 C219.3,993.6 209.5,993.6 200.0,993.6 C191.4,993.6 182.4,992.3 175.4,993.6 C170.0,994.6 165.3,996.4 161.4,999.0 C157.8,1001.4 154.5,1004.5 152.3,1008.0 C150.1,1011.4 149.0,1015.4 148.2,1019.6 C147.3,1024.3 148.0,1029.6 147.9,1035.0 C147.8,1041.0 147.9,1047.7 147.9,1054.1 L174.1,1054.1 C174.1,1047.5 173.4,1039.7 174.2,1034.4 C174.8,1030.7 175.6,1027.9 177.0,1025.3 C178.3,1023.0 179.9,1021.0 182.0,1019.6 C184.4,1018.0 186.9,1017.3 191.0,1016.6 C199.4,1015.2 216.9,1016.6 230.0,1016.6 C243.2,1016.6 258.5,1016.9 270.0,1016.8 C278.7,1016.7 286.7,1017.3 293.0,1016.3 C297.5,1015.6 300.9,1014.7 304.4,1012.7 C308.2,1010.5 311.6,1006.7 314.9,1003.3 C318.2,999.8 321.6,996.1 324.2,991.8 C326.9,987.2 329.1,981.2 330.5,976.1 C331.8,971.5 332.4,967.3 332.6,962.6 C332.8,957.6 332.2,952.1 331.5,946.9 C330.8,941.7 329.6,935.7 328.4,931.3 C327.5,928.1 326.1,925.2 325.5,923.0 C325.1,921.6 325.0,920.7 324.8,919.5 Z"/></clipPath>
<path d="M296.3,920.0 C297.3,922.0 298.1,923.7 299.2,926.0 C300.7,929.0 302.9,932.8 304.4,936.5 C305.9,940.4 307.3,944.7 308.1,949.0 C308.9,953.4 309.4,958.4 309.1,962.6 C308.9,966.3 308.2,969.6 307.0,973.0 C305.7,976.6 303.7,980.4 301.3,983.4 C299.0,986.3 296.1,989.0 293.0,990.7 C290.1,992.3 287.1,992.8 283.6,993.4 C279.5,994.1 275.7,993.8 270.0,993.9 C260.2,994.0 242.4,993.6 230.0,993.6 C219.3,993.6 209.5,993.6 200.0,993.6 C191.4,993.6 182.4,992.3 175.4,993.6 C170.0,994.6 165.3,996.4 161.4,999.0 C157.8,1001.4 154.5,1004.5 152.3,1008.0 C150.1,1011.4 149.0,1015.4 148.2,1019.6 C147.3,1024.3 148.0,1029.6 147.9,1035.0 C147.8,1041.0 147.9,1047.7 147.9,1054.1 L174.1,1054.1 C174.1,1047.5 173.4,1039.7 174.2,1034.4 C174.8,1030.7 175.6,1027.9 177.0,1025.3 C178.3,1023.0 179.9,1021.0 182.0,1019.6 C184.4,1018.0 186.9,1017.3 191.0,1016.6 C199.4,1015.2 216.9,1016.6 230.0,1016.6 C243.2,1016.6 258.5,1016.9 270.0,1016.8 C278.7,1016.7 286.7,1017.3 293.0,1016.3 C297.5,1015.6 300.9,1014.7 304.4,1012.7 C308.2,1010.5 311.6,1006.7 314.9,1003.3 C318.2,999.8 321.6,996.1 324.2,991.8 C326.9,987.2 329.1,981.2 330.5,976.1 C331.8,971.5 332.4,967.3 332.6,962.6 C332.8,957.6 332.2,952.1 331.5,946.9 C330.8,941.7 329.6,935.7 328.4,931.3 C327.5,928.1 326.1,925.2 325.5,923.0 C325.1,921.6 325.0,920.7 324.8,919.5 Z" fill="#f1f1f1"/>
<g clip-path="url(#hc3)" fill="#333333"><polygon points="301.0,946.3 336.5,943.9 338.1,953.4 301.6,955.1"/><polygon points="303.3,966.6 336.3,976.3 329.8,991.9 299.3,979.7"/><polygon points="283.9,987.6 294.1,1022.1 307.7,1017.4 297.5,982.9"/><polygon points="243.7,984.0 243.7,1026.0 258.8,1026.0 258.8,984.0"/><polygon points="201.7,984.0 201.7,1026.0 216.5,1026.0 216.5,984.0"/><polygon points="158.5,994.3 183.2,1025.9 179.0,1037.3 142.9,1017.5"/></g>
<path d="M296.3,920.0 C297.3,922.0 298.1,923.7 299.2,926.0 C300.7,929.0 302.9,932.8 304.4,936.5 C305.9,940.4 307.3,944.7 308.1,949.0 C308.9,953.4 309.4,958.4 309.1,962.6 C308.9,966.3 308.2,969.6 307.0,973.0 C305.7,976.6 303.7,980.4 301.3,983.4 C299.0,986.3 296.1,989.0 293.0,990.7 C290.1,992.3 287.1,992.8 283.6,993.4 C279.5,994.1 275.7,993.8 270.0,993.9 C260.2,994.0 242.4,993.6 230.0,993.6 C219.3,993.6 209.5,993.6 200.0,993.6 C191.4,993.6 182.4,992.3 175.4,993.6 C170.0,994.6 165.3,996.4 161.4,999.0 C157.8,1001.4 154.5,1004.5 152.3,1008.0 C150.1,1011.4 149.0,1015.4 148.2,1019.6 C147.3,1024.3 148.0,1029.6 147.9,1035.0 C147.8,1041.0 147.9,1047.7 147.9,1054.1" fill="none" stroke="#333333" stroke-width="1.9"/>
<path d="M324.8,919.5 C325.0,920.7 325.1,921.6 325.5,923.0 C326.1,925.2 327.5,928.1 328.4,931.3 C329.6,935.7 330.8,941.7 331.5,946.9 C332.2,952.1 332.8,957.6 332.6,962.6 C332.4,967.3 331.8,971.5 330.5,976.1 C329.1,981.2 326.9,987.2 324.2,991.8 C321.6,996.1 318.2,999.8 314.9,1003.3 C311.6,1006.7 308.2,1010.5 304.4,1012.7 C300.9,1014.7 297.5,1015.6 293.0,1016.3 C286.7,1017.3 278.7,1016.7 270.0,1016.8 C258.5,1016.9 243.2,1016.6 230.0,1016.6 C216.9,1016.6 199.4,1015.2 191.0,1016.6 C186.9,1017.3 184.4,1018.0 182.0,1019.6 C179.9,1021.0 178.3,1023.0 177.0,1025.3 C175.6,1027.9 174.8,1030.7 174.2,1034.4 C173.4,1039.7 174.1,1047.5 174.1,1054.1" fill="none" stroke="#333333" stroke-width="1.9"/>
<g fill="#f1f1f1" stroke="#808080" stroke-width="1.1">
<path d="M295.6,827 L316.4,826 L316.4,845 L295.6,845 Z" stroke="none"/>
<path d="M296,831 Q306,834 316,829 M296,836 Q306,839 316,834 M296,841 Q306,844 316,839" fill="none"/>
<path d="M293.5,846 Q293,844.8 296,844.8 L319,844.5 Q321.5,844.5 321.5,847 L321.5,858 Q321.5,861.5 318,861.5 L297,861.8 Q293.5,861.8 293.5,858 Z"/>
<path d="M294,857.5 Q307,859.5 321,856.5" fill="none"/>
<path d="M297.7,861.8 C297,880 296.3,900 296.3,920.5 L324.8,920.5 C324.8,915 324.3,905 324,890 L324,861.5 Z" stroke="none"/>
<path d="M324,888 C324.2,895 324.3,900 324.3,905" fill="none"/>
<path d="M297,899 Q312,902 324.5,897" fill="none"/>
<path d="M296.8,908.1 L325,908.1 M296.5,920.3 L326,920.3" fill="none"/>
<path d="M323.5,862.5 L351.8,861.5 L351.8,886.8 L339.7,886.8 Q336,889.5 332,890 L323.5,889.5 Q313,885 308.8,876.7 Q313,867 323.5,862.5 Z"/>
<path d="M323.5,862.5 Q317,876 323.5,889.5 M332.6,862.2 Q327,876 332.6,889.8" fill="none"/>
</g>
<path d="M295.6,827 L295.6,845 M316.4,826 L316.4,845" stroke="#333333" stroke-width="2"/>
<path d="M297.7,862 C297,880 296.4,900 296.3,920.5 M324.3,904 C324.6,910 324.8,915 324.8,920" fill="none" stroke="#444" stroke-width="1.8"/>
<g stroke="#808080" stroke-width="1">
<line x1="299.7" y1="910.2" x2="299.7" y2="919.6"/>
<line x1="302.9" y1="910.2" x2="302.9" y2="919.6"/>
<line x1="306" y1="910.2" x2="306" y2="919.6"/>
<line x1="309.1" y1="910.2" x2="309.1" y2="919.6"/>
<line x1="312.8" y1="910.2" x2="312.8" y2="919.6"/>
<line x1="315.9" y1="910.2" x2="315.9" y2="919.6"/>
<line x1="319" y1="910.2" x2="319" y2="919.6"/>
<line x1="322.2" y1="910.2" x2="322.2" y2="919.6"/>
</g>
<ellipse cx="343.2" cy="861.5" rx="7" ry="9.5" fill="#f1f1f1" stroke="#333333" stroke-width="1.3"/>
<path d="M336.8,858.8 Q343,855 349.6,858.8" fill="none" stroke="#333333" stroke-width="1"/>
<polyline points="484.5,775 484.5,952 462,952" fill="none" stroke="#333333" stroke-width="2.3"/>
<rect x="506.2" y="799.2" width="49.4" height="24.1" fill="#f3f3f3" stroke="#606060" stroke-width="1.1"/><line x1="506.2" y1="799.5" x2="555.6" y2="799.5" stroke="#555" stroke-width="1.6"/><circle cx="530.3" cy="810.6" r="7.9" fill="#f5f5f5" stroke="#444" stroke-width="1.2"/><g stroke="#333" stroke-width="1.7" stroke-linecap="round"><line x1="530.3" y1="805.6" x2="530.3" y2="808.0"/><line x1="527.3" y1="812.6" x2="527.0" y2="814.9"/><line x1="533.3" y1="812.6" x2="533.5999999999999" y2="814.9"/></g>
<polyline points="530.3,818.5 530.3,958.7 462,958.7" fill="none" stroke="#333333" stroke-width="2.3"/>
<polyline points="486,787.3 585,787.3 585,768.3 635,768.3" fill="none" stroke="#7d7d7d" stroke-width="1"/>
<polyline points="558,810.3 635,810.3" fill="none" stroke="#7d7d7d" stroke-width="1"/>
<polyline points="533.6,896.3 635,896.3" fill="none" stroke="#7d7d7d" stroke-width="1"/>
<polyline points="123.4,822.5 175,846.8" fill="none" stroke="#7d7d7d" stroke-width="1"/>
<polyline points="175,859.6 133,893" fill="none" stroke="#7d7d7d" stroke-width="1"/>
<polyline points="163.3,1051 117.7,1087.4" fill="none" stroke="#7d7d7d" stroke-width="1"/>
</svg>
<div class="t" style="left:664.1px;top:60.0px">控制开关</div>
<div class="t" style="left:640.0px;top:247.0px">空气开关硅胶管</div>
<div class="t" style="left:641.5px;top:300.0px;letter-spacing:0.8px">接220V市电</div>
<div class="t" style="left:648.4px;top:370.0px">机器电源线</div>
<div class="t" style="left:185.4px;top:282.3px">洗碗机接口</div>
<div class="t" style="left:159.2px;top:313.4px">溢水管接口</div>
<div class="t" style="left:45.5px;top:543.7px">接下水管</div>
<div class="t" style="left:664.1px;top:605.0px">控制开关</div>
<div class="t" style="left:639.7px;top:759.1px">空气开关硅胶管</div>
<div class="t" style="left:641.0px;top:801.5px;letter-spacing:0.8px">接220V市电</div>
<div class="t" style="left:640.7px;top:888.5px">机器电源线</div>
<div class="t" style="left:101.9px;top:904.3px">橡胶接口</div>
<div class="t" style="left:70.3px;top:1087.9px">接下水管</div>
<div class="t" style="left:99.5px;top:805.5px;font-size:25px;line-height:28px;color:#383838">A</div>
<div class="title" style="left:549px;top:1061px;font-size:29.2px;line-height:38px;color:#2f363f">双槽安装示意图</div>
</body></html>
